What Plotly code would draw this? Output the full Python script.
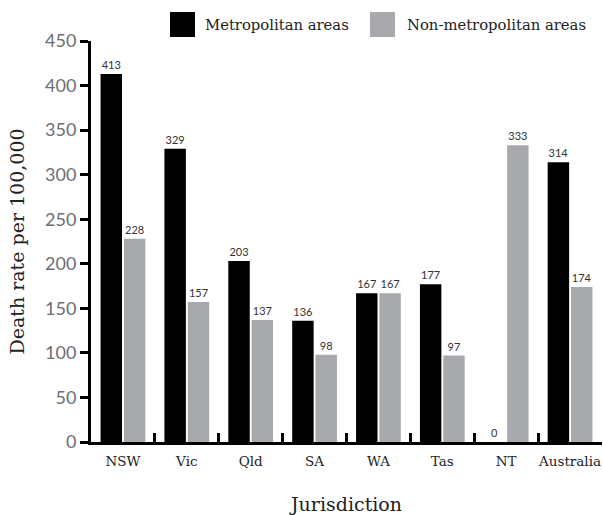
import plotly.graph_objects as go

categories = ["NSW", "Vic", "Qld", "SA", "WA", "Tas", "NT", "Australia"]
metro = [413, 329, 203, 136, 167, 177, 0, 314]
nonmetro = [228, 157, 137, 98, 167, 97, 333, 174]
series_names = ["Metropolitan areas", "Non-metropolitan areas"]
series_colors = ["#000000", "#a7a9ac"]
y_ticks = [0, 50, 100, 150, 200, 250, 300, 350, 400, 450]

serif = "DejaVu Serif"
sans = "Lato"

fig = go.Figure()
for name, vals, col in zip(series_names, [metro, nonmetro], series_colors):
    lab_font = dict(family=sans, size=11, color="#333333")
    fig.add_trace(go.Bar(
        x=categories, y=vals, name=name, marker=dict(color=col, line=dict(width=0)),
        text=[str(v) for v in vals], textposition="outside", cliponaxis=False,
        textfont=lab_font, outsidetextfont=lab_font, insidetextfont=lab_font,
        showlegend=False, hoverinfo="x+y+name",
    ))

# manual legend (large square keys)
legend_x = [170, 370]
legend_text_x = [203, 405]
for i in range(2):
    fig.add_shape(type="rect", xref="paper", yref="paper",
                  x0=(legend_x[i] - 91) / 511, x1=(legend_x[i] + 25 - 91) / 511,
                  y0=(442 - 37) / 401, y1=(442 - 12) / 401,
                  fillcolor=series_colors[i], line=dict(width=0))
    fig.add_annotation(xref="paper", yref="paper",
                       x=(legend_text_x[i] - 91) / 511, y=(442 - 24.5) / 401,
                       text=series_names[i], showarrow=False, xanchor="left", yanchor="middle",
                       font=dict(family=serif, size=14.8, color="#222222"))

fig.update_layout(
    width=603, height=515,
    margin=dict(l=91, r=1, t=41, b=73),
    paper_bgcolor="white", plot_bgcolor="white",
    barmode="group", bargap=0.27, bargroupgap=0.08,
    xaxis=dict(
        type="category", showline=True, linecolor="#000000", linewidth=3,
        ticks="inside", tickson="boundaries", ticklen=9, tickwidth=3, tickcolor="#000000",
        tickangle=0, automargin=False, ticklabelstandoff=5,
        tickfont=dict(family=serif, size=13.5, color="#222222"),
        title=dict(text="Jurisdiction", font=dict(family=serif, size=19, color="#222222"), standoff=40),
        showgrid=False, zeroline=False,
    ),
    yaxis=dict(
        range=[0, 450], tickvals=y_ticks, showline=True, linecolor="#000000", linewidth=3,
        ticks="outside", ticklen=8, tickwidth=3, tickcolor="#000000", automargin=False,
        tickfont=dict(family=sans, size=18, color="#6d6e70"),
        title=dict(text="Death rate per 100,000", font=dict(family=serif, size=19, color="#222222"), standoff=16),
        showgrid=False, zeroline=False,
    ),
)

fig.write_html("out.html", config={"displayModeBar": False},
               post_script="document.body.style.margin='0';document.body.style.padding='0';")
